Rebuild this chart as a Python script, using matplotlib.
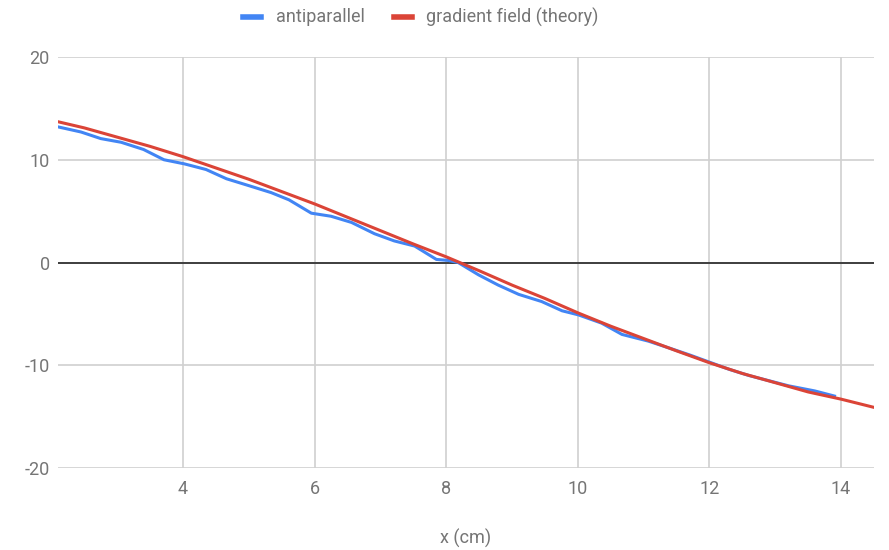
import matplotlib
matplotlib.use("Agg")
import matplotlib.pyplot as plt

# antiparallel measurement
x_meas = [2.1, 2.45, 2.75, 3.06, 3.4, 3.71, 4.02, 4.35, 4.66, 4.99, 5.34, 5.61, 5.95,
          6.25, 6.56, 6.91, 7.21, 7.52, 7.85, 8.03, 8.18, 8.49, 8.79, 9.1, 9.45, 9.76,
          10.01, 10.36, 10.67, 11.07, 11.4, 11.7, 12.0, 12.3, 12.6, 12.9, 13.2, 13.6, 13.9]
y_meas = [13.2, 12.7, 12.06, 11.7, 11.0, 10.0, 9.6, 9.05, 8.15, 7.5, 6.8, 6.1, 4.8,
          4.5, 3.9, 2.8, 2.1, 1.6, 0.3, 0.2, 0.0, -1.2, -2.2, -3.1, -3.8, -4.7,
          -5.1, -5.9, -7.0, -7.65, -8.35, -9.0, -9.7, -10.4, -11.0, -11.5, -12.0, -12.5, -13.0]

# gradient field theory
x_theory = [2.1, 2.5, 3.0, 3.5, 4.0, 4.5, 5.0, 5.5, 6.0, 6.5, 7.0, 7.5, 8.0, 8.5, 9.0,
            9.5, 10.0, 10.5, 11.0, 11.5, 12.0, 12.5, 13.0, 13.5, 14.0, 14.5]
y_theory = [13.7, 13.1, 12.2, 11.3, 10.3, 9.2, 8.1, 6.9, 5.7, 4.4, 3.1, 1.8, 0.55, -0.8,
            -2.2, -3.5, -4.9, -6.2, -7.4, -8.6, -9.76, -10.8, -11.7, -12.6, -13.3, -14.1]

x_ticks = [4, 6, 8, 10, 12, 14]
y_ticks = [-20, -10, 0, 10, 20]

plt.rcParams['font.family'] = ['Roboto', 'DejaVu Sans']
plt.rcParams['axes.unicode_minus'] = False
grey = '#757575'
fs = 13

fig = plt.figure(figsize=(8.89, 5.5), dpi=100)
ax = fig.add_axes([58/889, 1 - 468/550, (874-58)/889, (468-57)/550])

ax.plot(x_meas, y_meas, color='#4285F4', lw=2.2, label='antiparallel', zorder=3)
ax.plot(x_theory, y_theory, color='#DB4437', lw=2.2, label='gradient field (theory)', zorder=4)
ax.axhline(0, color='#333333', lw=1.3, zorder=2)

ax.set_xlim(2.1, 14.5)
ax.set_ylim(-20, 20)
ax.set_xticks(x_ticks)
ax.set_yticks(y_ticks)
ax.grid(True, color='#d0d0d0', lw=1.2, zorder=0)
for s in ax.spines.values():
    s.set_visible(False)
ax.tick_params(length=0, colors=grey, labelsize=fs)
ax.tick_params(axis='x', pad=9)
ax.tick_params(axis='y', pad=6)
ax.set_xlabel('x (cm)', color=grey, fontsize=fs, labelpad=22)

leg = fig.legend(*ax.get_legend_handles_labels(), loc='center',
                 bbox_to_anchor=(421/889, 1 - 17/550), bbox_transform=fig.transFigure,
                 ncol=2, frameon=False, fontsize=fs, handlelength=1.0, handleheight=0.3,
                 columnspacing=1.6, handletextpad=0.8, borderaxespad=0)
for t in leg.get_texts():
    t.set_color(grey)
for h in leg.get_lines():
    h.set_linewidth(4)

fig.savefig('out.png', dpi=100)
